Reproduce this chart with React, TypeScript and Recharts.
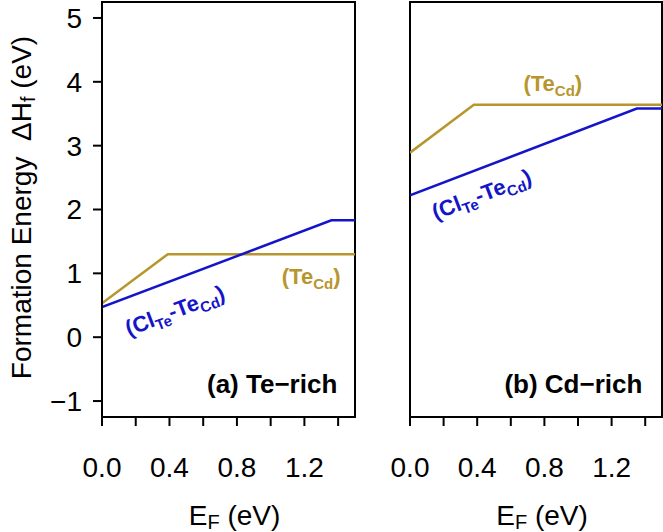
import React from 'react';
import { LineChart, Line, XAxis, YAxis, ReferenceArea, ReferenceDot } from 'recharts';

const FONT = "'Liberation Sans', Arial, Helvetica, sans-serif";
const GOLD = '#B8962E';
const BLUE = '#1414C8';

const xTicks = [0, 0.2, 0.4, 0.6, 0.8, 1.0, 1.2, 1.4];
const xTickLabels = ['0.0', '', '0.4', '', '0.8', '', '1.2', ''];
const yTicks = [-1, 0, 1, 2, 3, 4, 5];
const yTickLabels = ['\u22121', '0', '1', '2', '3', '4', '5'];
const xDomain = [0, 1.5];
const yDomain = [-1.25, 5.25];

// (a) Te-rich
const teRichTeCdEf = [0, 0.39, 1.5];
const teRichTeCdE = [0.53, 1.3, 1.3];
const teRichClTeCdEf = [0, 1.36, 1.5];
const teRichClTeCdE = [0.47, 1.83, 1.83];
// (b) Cd-rich
const cdRichTeCdEf = [0, 0.38, 1.5];
const cdRichTeCdE = [2.89, 3.64, 3.64];
const cdRichClTeCdEf = [0, 1.35, 1.5];
const cdRichClTeCdE = [2.22, 3.58, 3.58];

const toPoints = (xs: number[], ys: number[]) => xs.map((x, i) => ({ x, y: ys[i] }));

const fmtX = (v: number) => {
  const i = xTicks.findIndex((t) => Math.abs(t - v) < 1e-9);
  return i >= 0 ? xTickLabels[i] : '';
};
const fmtY = (v: number) => {
  const i = yTicks.indexOf(v);
  return i >= 0 ? yTickLabels[i] : '';
};

const TeCdText = (props: any) => {
  const vb = props.viewBox || {};
  return (
    <text x={vb.x} y={vb.y} textAnchor="middle" fill={GOLD} fontFamily={FONT} fontWeight="bold" fontSize={22}>
      <tspan>(Te</tspan>
      <tspan fontSize={15} dy={5}>Cd</tspan>
      <tspan dy={-5}>)</tspan>
    </text>
  );
};

const ClTeText = (props: any) => {
  const vb = props.viewBox || {};
  return (
    <text
      transform={`translate(${vb.x},${vb.y}) rotate(-21)`}
      x={0}
      y={7}
      textAnchor="middle"
      fill={BLUE}
      fontFamily={FONT}
      fontWeight="bold"
      fontSize={22}
    >
      <tspan>(Cl</tspan>
      <tspan fontSize={15} dy={5}>Te</tspan>
      <tspan dy={-5}>-Te</tspan>
      <tspan fontSize={15} dy={5}>Cd</tspan>
      <tspan dy={-5}>)</tspan>
    </text>
  );
};

const panelText = (label: string) => (props: any) => {
  const vb = props.viewBox || {};
  return (
    <text x={vb.x} y={vb.y} textAnchor="end" fill="#000" fontFamily={FONT} fontWeight="bold" fontSize={26}>
      {label}
    </text>
  );
};

const XTitle = (props: any) => {
  const vb = props.viewBox || {};
  return (
    <text x={vb.x + vb.width / 2 + 6} y={vb.y + 108} textAnchor="middle" fill="#000" fontFamily={FONT} fontSize={28}>
      <tspan>E</tspan>
      <tspan fontSize={20} dy={4}>F</tspan>
      <tspan dy={-4}>{'\u00A0(eV)'}</tspan>
    </text>
  );
};

const YTitle = (props: any) => {
  const vb = props.viewBox || {};
  const cx = vb.x + 31;
  const cy = vb.y + vb.height / 2 - 2;
  return (
    <text transform={`translate(${cx},${cy}) rotate(-90)`} x={0} y={0} textAnchor="middle" fill="#000" fontFamily={FONT} fontSize={28}>
      <tspan>{'Formation Energy \u00A0\u0394H'}</tspan>
      <tspan fontSize={20} dy={4}>f</tspan>
      <tspan dy={-4}>{'\u00A0(eV)'}</tspan>
    </text>
  );
};

const axisLineStyle = { stroke: '#000', strokeWidth: 2 };
const tickStyle = { fill: '#000', fontSize: 28, fontFamily: FONT };

const Panel = ({
  left,
  width,
  marginLeft,
  marginRight,
  showY,
  teCd,
  clTe,
  teCdPos,
  clTePos,
  label,
  labelPos,
}: any) => (
  <div style={{ position: 'absolute', left, top: 0 }}>
    <LineChart width={width} height={532} margin={{ top: 2, right: marginRight, left: marginLeft, bottom: 0 }}>
      <XAxis
        type="number"
        dataKey="x"
        domain={xDomain}
        ticks={xTicks}
        interval={0}
        allowDataOverflow
        tickFormatter={fmtX}
        height={115}
        tickSize={9}
        tickMargin={31}
        axisLine={axisLineStyle}
        tickLine={axisLineStyle}
        tick={tickStyle}
        label={{ content: XTitle }}
      />
      {showY ? (
        <YAxis
          type="number"
          domain={yDomain}
          ticks={yTicks}
          interval={0}
          allowDataOverflow
          tickFormatter={fmtY}
          width={102}
          tickSize={9}
          tickMargin={11}
          axisLine={axisLineStyle}
          tickLine={axisLineStyle}
          tick={tickStyle}
          label={{ content: YTitle }}
        />
      ) : (
        <YAxis
          type="number"
          domain={yDomain}
          allowDataOverflow
          width={0}
          tick={false}
          tickLine={false}
          axisLine={axisLineStyle}
        />
      )}
      <ReferenceArea x1={0} x2={1.5} y1={-1.25} y2={5.25} fill="none" fillOpacity={0} stroke="#000" strokeWidth={2} />
      <Line data={teCd} dataKey="y" stroke={GOLD} strokeWidth={2.5} dot={false} activeDot={false} isAnimationActive={false} />
      <Line data={clTe} dataKey="y" stroke={BLUE} strokeWidth={2.5} dot={false} activeDot={false} isAnimationActive={false} />
      <ReferenceDot x={teCdPos[0]} y={teCdPos[1]} r={0} fill="none" stroke="none" label={{ content: TeCdText }} />
      <ReferenceDot x={clTePos[0]} y={clTePos[1]} r={0} fill="none" stroke="none" label={{ content: ClTeText }} />
      <ReferenceDot x={labelPos[0]} y={labelPos[1]} r={0} fill="none" stroke="none" label={{ content: panelText(label) }} />
    </LineChart>
  </div>
);

export default function App() {
  return (
    <div style={{ position: 'absolute', left: 0, top: 0, width: 663, height: 532, background: '#fff' }}>
      <Panel
        left={0}
        width={358}
        marginLeft={0}
        marginRight={3}
        showY
        teCd={toPoints(teRichTeCdEf, teRichTeCdE)}
        clTe={toPoints(teRichClTeCdEf, teRichClTeCdE)}
        teCdPos={[1.24, 0.84]}
        clTePos={[0.433, 0.41]}
        label={'(a) Te\u2212rich'}
        labelPos={[1.395, -0.875]}
      />
      <Panel
        left={370}
        width={293}
        marginLeft={40}
        marginRight={1}
        showY={false}
        teCd={toPoints(cdRichTeCdEf, cdRichTeCdE)}
        clTe={toPoints(cdRichClTeCdEf, cdRichClTeCdE)}
        teCdPos={[0.85, 3.86]}
        clTePos={[0.427, 2.23]}
        label={'(b) Cd\u2212rich'}
        labelPos={[1.383, -0.875]}
      />
    </div>
  );
}
